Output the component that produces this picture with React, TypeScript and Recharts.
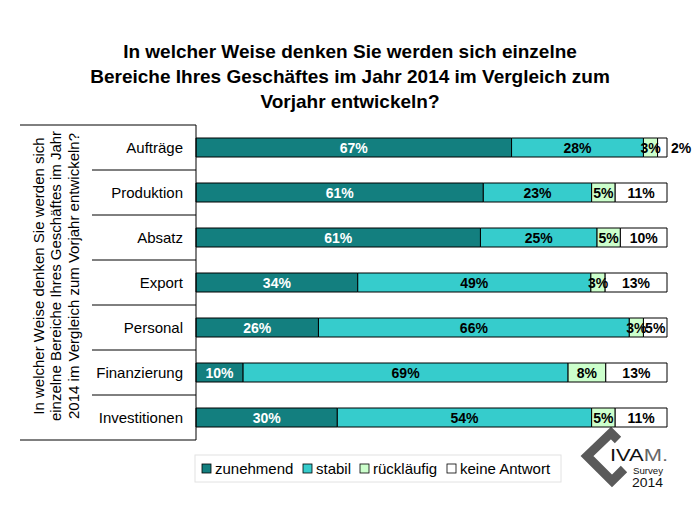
import { BarChart, Bar, XAxis, YAxis, LabelList, Customized } from "recharts"

const categories = [
	"Aufträge",
	"Produktion",
	"Absatz",
	"Export",
	"Personal",
	"Finanzierung",
	"Investitionen",
]
const zunehmend = [67, 61, 61, 34, 26, 10, 30]
const stabil = [28, 23, 25, 49, 66, 69, 54]
const ruecklaeufig = [3, 5, 5, 3, 3, 8, 5]
const keineAntwort = [2, 11, 10, 13, 5, 13, 11]

const titleLines = [
	"In welcher Weise denken Sie werden sich einzelne",
	"Bereiche Ihres Geschäftes im Jahr 2014 im Vergleich zum",
	"Vorjahr entwickeln?",
]
const axisTitleLines = [
	"In welcher Weise denken Sie werden sich",
	"einzelne Bereiche Ihres Geschäftes im Jahr",
	"2014 im Vergleich zum Vorjahr entwickeln?",
]

const series = [
	{ key: "zunehmend", name: "zunehmend", color: "#137f7f", text: "#fff" },
	{ key: "stabil", name: "stabil", color: "#36cccc", text: "#000" },
	{ key: "ruecklaeufig", name: "rückläufig", color: "#ccffcc", text: "#000" },
	{ key: "keineAntwort", name: "keine Antwort", color: "#ffffff", text: "#000" },
]

const data = categories.map((name, i) => ({
	name,
	zunehmend: zunehmend[i],
	stabil: stabil[i],
	ruecklaeufig: ruecklaeufig[i],
	keineAntwort: keineAntwort[i],
}))

const W = 700
const H = 514
const TOP = 125
const BOTTOM = 74
const AXIS_W = 196
const BAND = (H - TOP - BOTTOM) / categories.length
const FONT = "'Liberation Sans', Arial, sans-serif"

const CategoryTick = (props: any) => {
	const { y, payload, index } = props
	const top = y - BAND / 2
	return (
		<g>
			<line x1={index === 0 ? 20 : 92} x2={AXIS_W} y1={top} y2={top} stroke="#000" />
			{index === categories.length - 1 && (
				<line x1={20} x2={AXIS_W} y1={top + BAND} y2={top + BAND} stroke="#000" />
			)}
			<text
				x={183}
				y={y}
				textAnchor="end"
				dominantBaseline="central"
				fontSize={15}
				fontFamily={FONT}
				fill="#000"
			>
				{payload.value}
			</text>
		</g>
	)
}

const makeLabel = (textColor: string, last: boolean) => (props: any) => {
	const box = props.viewBox ?? props
	const { x, y, width, height } = box
	const { value } = props
	// tiny last segment: put the number beside the bar
	const outside = last && width < 12
	return (
		<text
			x={outside ? x + width + 4 : x + width / 2}
			y={y + height / 2}
			textAnchor={outside ? "start" : "middle"}
			dominantBaseline="central"
			fontSize={14}
			fontWeight="bold"
			fontFamily={FONT}
			fill={outside ? "#000" : textColor}
		>
			{`${value}%`}
		</text>
	)
}

const Decorations = () => {
	const legendX = [202, 303, 360, 447]
	return (
		<g fontFamily={FONT}>
			{titleLines.map((t, i) => (
				<text
					key={t}
					x={350}
					y={58 + i * 25}
					textAnchor="middle"
					fontSize={19}
					fontWeight="bold"
					fill="#000"
				>
					{t}
				</text>
			))}
			{axisTitleLines.map((t, i) => (
				<text
					key={t}
					transform={`translate(${38 + i * 17.5}, 276) rotate(-90)`}
					textAnchor="middle"
					dominantBaseline="central"
					fontSize={15}
					fill="#000"
				>
					{t}
				</text>
			))}
			<rect x={195} y={455} width={366} height={27} fill="#fff" stroke="#e2e2e2" />
			{series.map((s, i) => (
				<g key={s.key}>
					<rect
						x={legendX[i]}
						y={464}
						width={9}
						height={9}
						fill={s.color}
						stroke="#000"
						strokeWidth={0.8}
					/>
					<text x={legendX[i] + 13} y={473.5} fontSize={15} fill="#000">
						{s.name}
					</text>
				</g>
			))}
			{/* IVAM survey logo */}
			<polyline
				points="618,440 611,433 587,456 612,481 624,469"
				fill="none"
				stroke="#5a5a5a"
				strokeWidth={9}
				strokeLinejoin="miter"
			/>
			<text
				x={610}
				y={461}
				fontSize={16}
				fill="#111"
				textLength={58}
				lengthAdjust="spacingAndGlyphs"
			>
				IVA
				<tspan fill="#666">M.</tspan>
			</text>
			<text
				x={633}
				y={474}
				fontSize={9.5}
				fill="#111"
				textLength={30}
				lengthAdjust="spacingAndGlyphs"
			>
				Survey
			</text>
			<text
				x={632}
				y={487}
				fontSize={12}
				fill="#111"
				textLength={31}
				lengthAdjust="spacingAndGlyphs"
			>
				2014
			</text>
		</g>
	)
}

export default function App() {
	return (
		<div style={{ position: "absolute", left: 0, top: 0, background: "#fff" }}>
			<BarChart
				width={W}
				height={H}
				data={data}
				layout="vertical"
				stackOffset="expand"
				barSize={19}
				margin={{ top: TOP, right: 33, bottom: BOTTOM, left: 0 }}
			>
				<XAxis type="number" domain={[0, 1]} hide />
				<YAxis
					type="category"
					dataKey="name"
					width={AXIS_W}
					tickLine={false}
					axisLine={{ stroke: "#000" }}
					tick={<CategoryTick />}
					interval={0}
				/>
				{series.map((s, i) => (
					<Bar
						key={s.key}
						dataKey={s.key}
						name={s.name}
						stackId="a"
						fill={s.color}
						stroke="#000"
						strokeWidth={1}
						isAnimationActive={false}
					>
						<LabelList
							dataKey={s.key}
							content={makeLabel(s.text, i === series.length - 1)}
						/>
					</Bar>
				))}
				<Customized component={Decorations} />
			</BarChart>
		</div>
	)
}
